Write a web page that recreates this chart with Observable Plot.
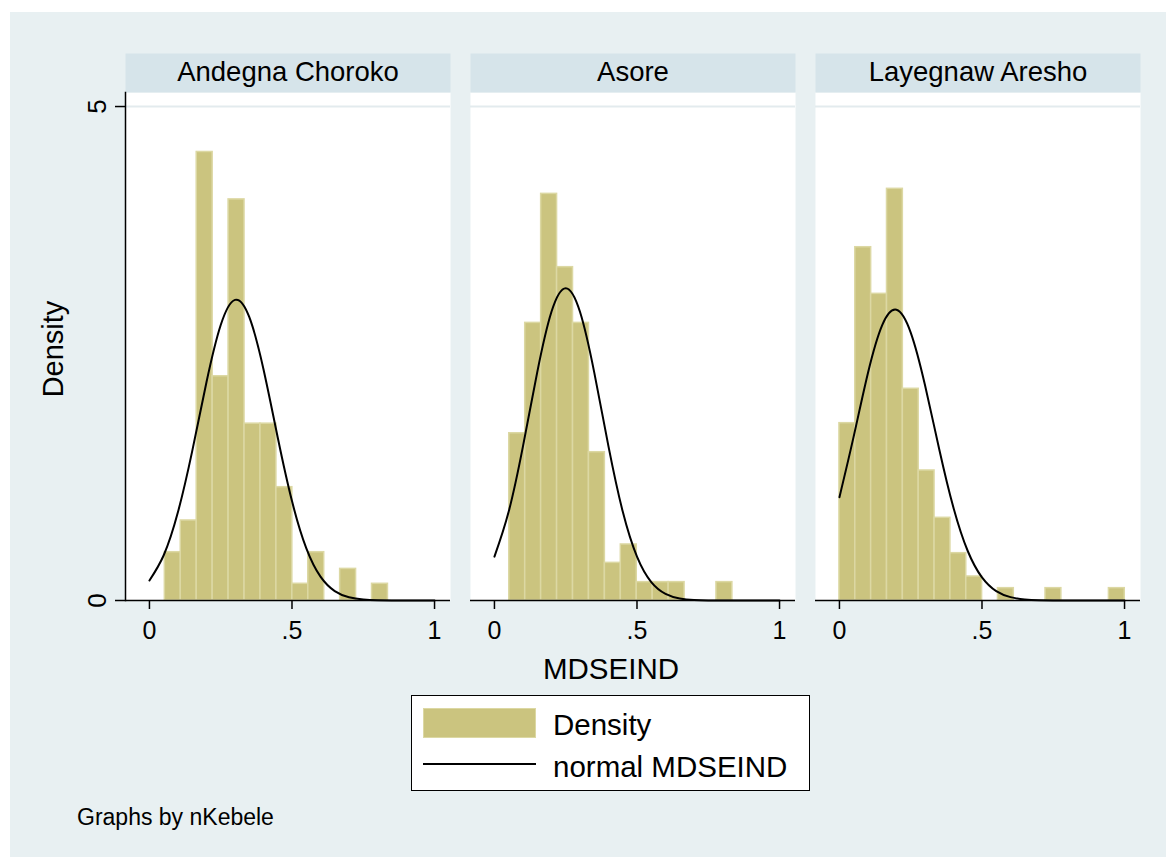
<!DOCTYPE html>
<html>
<head>
<meta charset="utf-8">
<script src="https://cdn.jsdelivr.net/npm/d3@7"></script>
<script src="https://cdn.jsdelivr.net/npm/@observablehq/plot@0.6"></script>
<style>
  body { margin: 0; background: #ffffff; font-family: "Liberation Sans", Arial, sans-serif; }
  #wrap { position: relative; width: 1166px; height: 857px; overflow: hidden; }
  #bg { position: absolute; left: 10px; top: 12px; right: 0; bottom: 0; background: #e8f0f2; }
  #chart { position: absolute; left: 0; top: 0; }
  .t { position: absolute; white-space: nowrap; line-height: 1; color: #000; }
  #legend { position: absolute; left: 411px; top: 695px; width: 399px; height: 96px; box-sizing: border-box;
            border: 1px solid #000; background: #fff; }
  #legend .sw { position: absolute; left: 11px; top: 12px; width: 113px; height: 30px; box-sizing: border-box;
                background: #cbc47f; border: 1.5px solid #dcd8a3; }
  #legend .ln { position: absolute; left: 11px; top: 67px; width: 113px; height: 2px; background: #000; }
  #legend .lt { position: absolute; left: 141px; font-size: 29.5px; line-height: 1; white-space: nowrap; }
</style>
</head>
<body>
<div id="wrap">
  <div id="bg"></div>
  <div id="chart"></div>
  <div class="t" style="left:53px; top:349px; font-size:29px; transform: translate(-50%,-50%) rotate(-90deg);">Density</div>
  <div class="t" style="left:611px; top:654px; font-size:29.5px; transform: translateX(-50%);">MDSEIND</div>
  <div id="legend">
    <div class="sw"></div>
    <div class="lt" style="top:14px;">Density</div>
    <div class="ln"></div>
    <div class="lt" style="top:56px;">normal MDSEIND</div>
  </div>
  <div class="t" style="left:77px; top:806px; font-size:23px;">Graphs by nKebele</div>
</div>
<script>
// ---- data ----
const panels = ["Andegna Choroko", "Asore", "Layegnaw Aresho"];

// histogram bins (start of first bin, bin width) per panel
const binStart = [0.054, 0.052, 0.0];
const binWidth = [0.0559, 0.0559, 0.0556];

// bar densities per bin
const densityAndegna = [0.489, 0.81, 4.54, 2.27, 4.06, 1.79, 1.79, 1.147, 0.169, 0.489, 0, 0.32, 0, 0.169];
const densityAsore = [1.693, 2.81, 4.116, 3.374, 2.81, 1.501, 0.381, 0.567, 0.186, 0.186, 0.186, 0, 0, 0.186];
const densityLayegnaw = [1.795, 3.576, 3.104, 4.167, 2.143, 1.316, 0.837, 0.479, 0.243, 0, 0.125, 0, 0, 0.125, 0, 0, 0, 0.125];

// normal density curve, read at these x positions
const curveX = [0, 0.05, 0.1, 0.15, 0.2, 0.25, 0.3, 0.35, 0.4, 0.45, 0.5, 0.55, 0.6, 0.65, 0.7, 0.75, 0.8, 0.85, 0.9, 0.95, 1];
const normalAndegna = [0.203, 0.458, 0.895, 1.512, 2.209, 2.788, 3.043, 2.870, 2.341, 1.650, 1.006, 0.530, 0.241, 0.095, 0.032, 0.0095, 0.0024, 0.0005, 0.0001, 0, 0];
const normalAsore = [0.444, 0.900, 1.560, 2.309, 2.922, 3.161, 2.922, 2.309, 1.560, 0.900, 0.444, 0.187, 0.068, 0.021, 0.0055, 0.0012, 0.0002, 0, 0, 0, 0];
const normalLayegnaw = [1.046, 1.661, 2.303, 2.787, 2.943, 2.712, 2.181, 1.531, 0.938, 0.501, 0.234, 0.095, 0.034, 0.0105, 0.0028, 0.0007, 0.0001, 0, 0, 0, 0];

// axes
const xTicks = [0, 0.5, 1];
const yTicks = [0, 5];
const xDomain = [-0.084, 1.056];
const yDomain = [0, 5.142];

// ---- build tables ----
const densities = [densityAndegna, densityAsore, densityLayegnaw];
const normals = [normalAndegna, normalAsore, normalLayegnaw];

const bars = [];
panels.forEach((p, k) => {
  densities[k].forEach((d, i) => {
    if (d > 0) bars.push({panel: p, x1: binStart[k] + i * binWidth[k], x2: binStart[k] + (i + 1) * binWidth[k], density: d});
  });
});
const curve = [];
panels.forEach((p, k) => {
  curveX.forEach((x, i) => curve.push({panel: p, x, y: normals[k][i]}));
});

const fmt = d => (d === 0.5 ? ".5" : String(d));

const chart = Plot.plot({
  width: 1166,
  height: 700,
  marginLeft: 125,
  marginRight: 26,
  marginTop: 92,
  marginBottom: 100,
  style: {background: "transparent", fontFamily: "'Liberation Sans', Arial, sans-serif", color: "#000", overflow: "visible"},
  fx: {domain: panels, axis: null, paddingInner: 20 / 345, paddingOuter: 0, label: null},
  x: {domain: xDomain, axis: null},
  y: {domain: yDomain, axis: null},
  marks: [
    Plot.frame({fill: "#ffffff", stroke: null}),
    Plot.frame({fill: "#d6e4ea", stroke: null, insetTop: -39, insetBottom: 508}),
    Plot.gridY(yTicks.slice(1), {stroke: "#e3ebee", strokeOpacity: 1, strokeWidth: 2}),
    Plot.rectY(bars, {fx: "panel", x1: "x1", x2: "x2", y: "density", fill: "#cbc47f", stroke: "#dcd8a3", strokeWidth: 1.5}),
    Plot.line(curve, {fx: "panel", x: "x", y: "y", curve: "natural", stroke: "#000", strokeWidth: 2}),
    Plot.ruleY([0], {stroke: "#000", strokeWidth: 1.5}),
    Plot.frame({anchor: "left", facetAnchor: "left", stroke: "#000", strokeWidth: 1.5}),
    Plot.axisX(xTicks, {tickSize: 9, tickPadding: 12, fontSize: 25, tickFormat: fmt, stroke: "#000", strokeWidth: 1.5}),
    Plot.axisY(yTicks, {tickSize: 10, tickFormat: () => "", stroke: "#000", strokeWidth: 1.5}),
    Plot.text(yTicks, {y: d => d, frameAnchor: "left", dx: -28, rotate: -90, text: fmt, fontSize: 26,
                       textAnchor: "middle", lineAnchor: "middle", facetAnchor: "left"}),
    Plot.text(panels, {fx: d => d, text: d => d, frameAnchor: "top", dy: -20, fontSize: 27.5,
                       textAnchor: "middle", lineAnchor: "middle"})
  ]
});
document.getElementById("chart").appendChild(chart);
</script>
</body>
</html>
